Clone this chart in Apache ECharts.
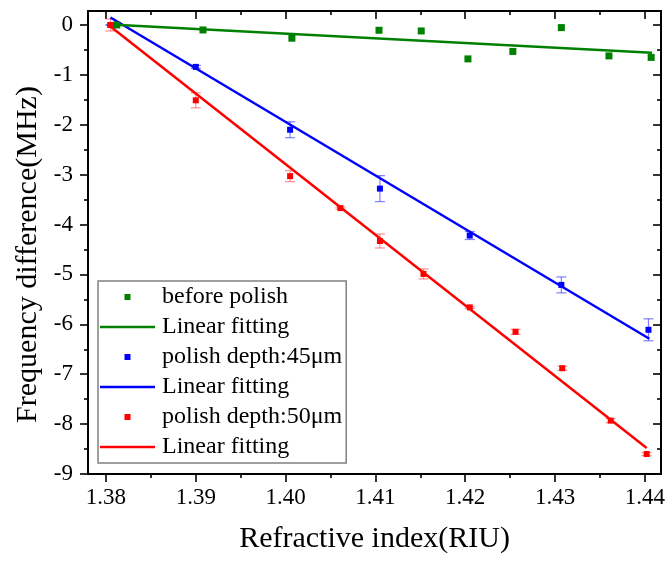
<!DOCTYPE html>
<html>
<head>
<meta charset="utf-8">
<title>Frequency difference vs refractive index</title>
<script src="https://cdn.jsdelivr.net/npm/echarts@6/dist/echarts.min.js"></script>
<style>
  html, body { margin: 0; padding: 0; background: #fff; }
  #chart { width: 668px; height: 561px; }
</style>
</head>
<body>
<div id="chart"></div>
<script>
// before polish (no error bars)
var riBefore = [1.3812, 1.3908, 1.4007, 1.4104, 1.4151, 1.4203, 1.4253, 1.4307, 1.4360, 1.4407];
var dfBefore = [0, -0.10, -0.265, -0.106, -0.12, -0.68, -0.53, -0.053, -0.62, -0.65];
var fitBeforeX = [1.3810, 1.4408];
var fitBeforeY = [0.005, -0.555];

// polish depth 45um
var ri45 = [1.3805, 1.3900, 1.4005, 1.4105, 1.4205, 1.4307, 1.4404];
var df45 = [0, -0.84, -2.10, -3.28, -4.22, -5.21, -6.11];
var err45 = [0, 0.03, 0.16, 0.26, 0.08, 0.16, 0.22];
var fit45X = [1.3805, 1.4405];
var fit45Y = [0.15, -6.29];

// polish depth 50um
var ri50 = [1.3805, 1.3900, 1.4005, 1.4061, 1.4105, 1.41535, 1.4205, 1.4256, 1.4308, 1.4362, 1.4402];
var df50 = [0, -1.51, -3.03, -3.67, -4.33, -4.99, -5.66, -6.15, -6.88, -7.93, -8.60];
var err50 = [0.12, 0.15, 0.11, 0.02, 0.14, 0.10, 0.02, 0.05, 0.04, 0.04, 0.03];
var fit50X = [1.3805, 1.4402];
var fit50Y = [-0.03, -8.48];

// axis ticks
var xTicks = [1.38, 1.39, 1.40, 1.41, 1.42, 1.43, 1.44];
var xMinorTicks = [1.385, 1.395, 1.405, 1.415, 1.425, 1.435];
var yTicks = [0, -1, -2, -3, -4, -5, -6, -7, -8, -9];
var yMinorTicks = [-0.5, -1.5, -2.5, -3.5, -4.5, -5.5, -6.5, -7.5, -8.5];

var serif = "'Liberation Serif', 'Times New Roman', serif";
var fitNames = { fit0: 'Linear fitting', fit45: 'Linear fitting', fit50: 'Linear fitting' };
var squareIcon = 'path://M0,0h10v10h-10z';
var lineIcon = 'path://M0,0h55v2.5h-55z';

function pairs(xs, ys) {
  return xs.map(function (x, i) { return [x, ys[i]]; });
}
function errRows(xs, ys, es) {
  return xs.map(function (x, i) { return [x, ys[i] - es[i], ys[i] + es[i]]; });
}
// vertical error bar with caps
function errBar(color) {
  return function (params, api) {
    var x = api.value(0);
    var lo = api.coord([x, api.value(1)]);
    var hi = api.coord([x, api.value(2)]);
    var w = 5;
    var st = { stroke: color, lineWidth: 1.2 };
    return {
      type: 'group',
      children: [
        { type: 'line', shape: { x1: hi[0], y1: hi[1], x2: lo[0], y2: lo[1] }, style: st },
        { type: 'line', shape: { x1: hi[0] - w, y1: hi[1], x2: hi[0] + w, y2: hi[1] }, style: st },
        { type: 'line', shape: { x1: lo[0] - w, y1: lo[1], x2: lo[0] + w, y2: lo[1] }, style: st }
      ]
    };
  };
}

function xAx(pos, ticks, len, inside, extra) {
  var a = {
    type: 'value', position: pos, min: 1.378, max: 1.4418,
    axisLine: { show: false, onZero: false },
    axisTick: { show: true, customValues: ticks, length: len, inside: inside, lineStyle: { color: '#000', width: 1.6 } },
    axisLabel: { show: false },
    splitLine: { show: false }
  };
  return Object.assign(a, extra || {});
}
function yAx(pos, ticks, len, inside, extra) {
  var a = {
    type: 'value', position: pos, min: -9, max: 0.28,
    axisLine: { show: false, onZero: false },
    axisTick: { show: true, customValues: ticks, length: len, inside: inside, lineStyle: { color: '#000', width: 1.6 } },
    axisLabel: { show: false },
    splitLine: { show: false }
  };
  return Object.assign(a, extra || {});
}

var chart = echarts.init(document.getElementById('chart'));
chart.setOption({
  animation: false,
  backgroundColor: '#fff',
  textStyle: { fontFamily: serif },
  grid: { left: 88, right: 6, top: 11, bottom: 87 },
  xAxis: [
    xAx('bottom', xTicks, 8, false, {
      axisLine: { show: true, onZero: false, lineStyle: { color: '#000', width: 2 } },
      axisLabel: {
        show: true, customValues: xTicks, margin: 12,
        formatter: function (v) { return v.toFixed(2); },
        fontFamily: serif, fontSize: 23, color: '#000'
      },
      name: 'Refractive index(RIU)', nameLocation: 'middle', nameGap: 50,
      nameTextStyle: { fontFamily: serif, fontSize: 30, color: '#000' }
    }),
    xAx('bottom', xMinorTicks, 4, false),
    xAx('top', xTicks, 8, true, {
      axisLine: { show: true, onZero: false, lineStyle: { color: '#000', width: 2 } }
    }),
    xAx('top', xMinorTicks, 4, true)
  ],
  yAxis: [
    yAx('left', yTicks, 8, false, {
      axisLine: { show: true, onZero: false, lineStyle: { color: '#000', width: 2 } },
      axisLabel: {
        show: true, customValues: yTicks, margin: 15,
        fontFamily: serif, fontSize: 23, color: '#000'
      },
      name: 'Frequency difference(MHz)', nameLocation: 'middle', nameGap: 40,
      nameTextStyle: { fontFamily: serif, fontSize: 30, color: '#000', padding: [0, 24, 0, 0] }
    }),
    yAx('left', yMinorTicks, 4, false),
    yAx('right', yTicks, 8, true, {
      axisLine: { show: true, onZero: false, lineStyle: { color: '#000', width: 2 } }
    }),
    yAx('right', yMinorTicks, 4, true)
  ],
  legend: {
    orient: 'vertical', left: 98, top: 281,
    padding: [4, 4, 4, 2],
    itemWidth: 55, itemHeight: 6, itemGap: 6,
    borderColor: '#808080', borderWidth: 1.5,
    textStyle: { fontFamily: serif, fontSize: 24, lineHeight: 24, color: '#000', padding: [0, 0, 0, 2] },
    formatter: function (name) { return fitNames[name] || name; },
    data: [
      { name: 'before polish', icon: squareIcon },
      { name: 'fit0', icon: lineIcon },
      { name: 'polish depth:45μm', icon: squareIcon },
      { name: 'fit45', icon: lineIcon },
      { name: 'polish depth:50μm', icon: squareIcon },
      { name: 'fit50', icon: lineIcon }
    ]
  },
  series: [
    { name: 'err45', type: 'custom', renderItem: errBar('rgba(60,60,255,0.65)'),
      data: errRows(ri45, df45, err45), z: 2 },
    { name: 'err50', type: 'custom', renderItem: errBar('rgba(255,70,70,0.6)'),
      data: errRows(ri50, df50, err50), z: 2 },
    { name: 'fit45', type: 'line', data: pairs(fit45X, fit45Y), symbol: 'none',
      lineStyle: { color: '#0000ff', width: 2.5 }, itemStyle: { color: '#0000ff' }, z: 3 },
    { name: 'fit50', type: 'line', data: pairs(fit50X, fit50Y), symbol: 'none',
      lineStyle: { color: '#ff0000', width: 2.5 }, itemStyle: { color: '#ff0000' }, z: 3 },
    { name: 'fit0', type: 'line', data: pairs(fitBeforeX, fitBeforeY), symbol: 'none',
      lineStyle: { color: '#008000', width: 2.5 }, itemStyle: { color: '#008000' }, z: 3 },
    { name: 'polish depth:45μm', type: 'scatter', data: pairs(ri45, df45),
      symbol: 'rect', symbolSize: 6, itemStyle: { color: '#0000ff', opacity: 1 }, z: 4 },
    { name: 'polish depth:50μm', type: 'scatter', data: pairs(ri50, df50),
      symbol: 'rect', symbolSize: 6, itemStyle: { color: '#ff0000', opacity: 1 }, z: 4 },
    { name: 'before polish', type: 'scatter', data: pairs(riBefore, dfBefore),
      symbol: 'rect', symbolSize: 7, itemStyle: { color: '#008000', opacity: 1 }, z: 5 }
  ]
});
</script>
</body>
</html>
